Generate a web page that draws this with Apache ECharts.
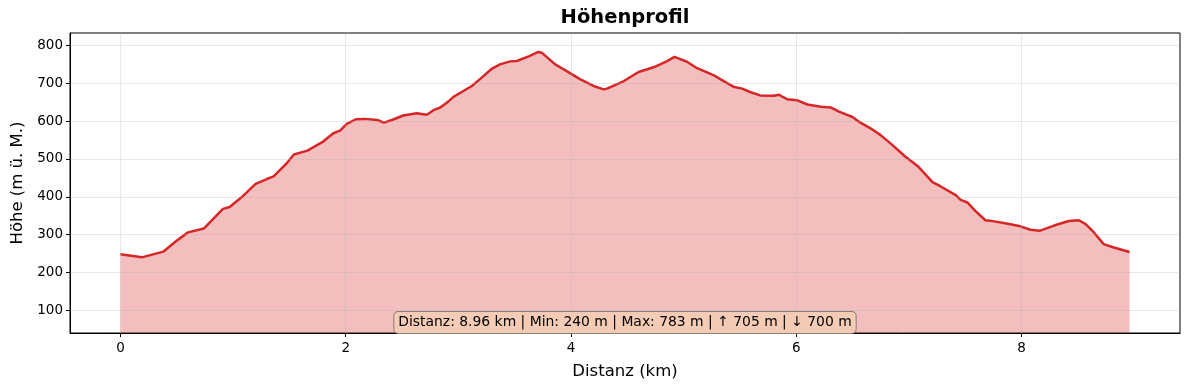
<!DOCTYPE html>
<html>
<head>
<meta charset="utf-8">
<script src="https://cdn.jsdelivr.net/npm/echarts@6/dist/echarts.min.js"></script>
<style>
html,body{margin:0;padding:0;background:#fff;}
#chart{width:1189px;height:390px;}
</style>
</head>
<body>
<div id="chart"></div>
<script>
const distances = [0.00,0.19,0.38,0.49,0.60,0.74,0.91,0.97,1.08,1.20,1.30,1.36,1.48,1.54,1.66,1.80,1.89,1.95,2.01,2.09,2.17,2.28,2.34,2.41,2.51,2.63,2.72,2.78,2.84,2.90,2.96,3.03,3.12,3.20,3.30,3.37,3.46,3.52,3.53,3.63,3.71,3.74,3.86,3.97,4.08,4.20,4.29,4.30,4.32,4.47,4.60,4.74,4.85,4.92,5.03,5.12,5.27,5.36,5.45,5.52,5.59,5.68,5.80,5.85,5.88,5.92,6.01,6.10,6.22,6.31,6.38,6.50,6.57,6.66,6.75,6.85,6.97,7.00,7.08,7.21,7.28,7.42,7.46,7.52,7.59,7.68,7.72,7.88,7.99,8.08,8.16,8.29,8.42,8.51,8.57,8.64,8.73,8.82,8.96];
const elevations = [248,240,255,282,306,316,368,373,400,434,447,454,490,512,522,546,568,575,593,605,606,603,596,603,615,621,617,629,636,649,665,677,693,713,739,750,758,759,757,772,783,781,750,731,711,693,684,689,686,706,730,743,758,770,757,740,721,705,690,686,677,668,667,670,664,658,655,644,638,636,625,611,596,581,563,538,506,499,481,439,428,404,392,385,363,338,337,329,322,313,310,324,336,338,328,307,275,266,254];
const xTicks = [0,2,4,6,8];
const yTicks = [100,200,300,400,500,600,700,800];
const titleText = 'Höhenprofil';
const xLabel = 'Distanz (km)';
const yLabel = 'Höhe (m ü. M.)';
const statsText = 'Distanz: 8.96 km | Min: 240 m | Max: 783 m | ↑ 705 m | ↓ 700 m';

const FONT = 'DejaVu Sans';
const chart = echarts.init(document.getElementById('chart'), null, {renderer:'canvas'});
const data = distances.map((d,i)=>[d, elevations[i]]);
const gridMarks = xTicks.map(v=>({xAxis:v})).concat(yTicks.map(v=>({yAxis:v})));

chart.setOption({
  animation:false,
  backgroundColor:'#fff',
  grid:{left:70,right:9,top:33,bottom:57,show:true,borderColor:'#000',borderWidth:1,backgroundColor:'transparent'},
  xAxis:{
    type:'value', min:-0.448, max:9.408,
    name:xLabel, nameLocation:'middle', nameGap:30,
    nameTextStyle:{fontFamily:FONT,fontSize:16.5,color:'#000'},
    axisLine:{show:true,onZero:false,lineStyle:{color:'#000',width:1}},
    axisTick:{show:true,length:4,lineStyle:{color:'#000'},customValues:xTicks},
    axisLabel:{fontFamily:FONT,fontSize:13.5,color:'#000',margin:8,customValues:xTicks},
    splitLine:{show:false}
  },
  yAxis:{
    type:'value', min:40, max:833,
    name:yLabel, nameLocation:'middle', nameGap:44,
    nameTextStyle:{fontFamily:FONT,fontSize:16.5,color:'#000'},
    axisLine:{show:true,onZero:false,lineStyle:{color:'#000',width:1}},
    axisTick:{show:true,length:4,lineStyle:{color:'#000'},customValues:yTicks},
    axisLabel:{fontFamily:FONT,fontSize:13.5,color:'#000',margin:7,customValues:yTicks},
    splitLine:{show:false}
  },
  series:[{
    type:'line',
    data:data,
    showSymbol:false,
    symbol:'none',
    lineStyle:{color:'#d62728',width:2.5},
    areaStyle:{color:'#d62728',opacity:0.3,origin:'start'},
    markLine:{
      silent:true,symbol:['none','none'],label:{show:false},
      lineStyle:{color:'#b0b0b0',opacity:0.3,width:1,type:'solid'},
      data:gridMarks
    }
  }],
  graphic:[
    {type:'text',x:625,y:18,style:{text:titleText,font:'bold 19.5px "DejaVu Sans"',fill:'#000',textAlign:'center',textVerticalAlign:'middle'},z:100},
    {type:'text',x:625,y:322.5,z:100,style:{text:statsText,font:'13.9px "DejaVu Sans"',fill:'#000',textAlign:'center',textVerticalAlign:'middle',
      backgroundColor:'rgba(244,203,181,1)',borderColor:'#8a7f78',borderWidth:1,borderRadius:4,padding:[4,4,3,4]}}
  ]
});
</script>
</body>
</html>
